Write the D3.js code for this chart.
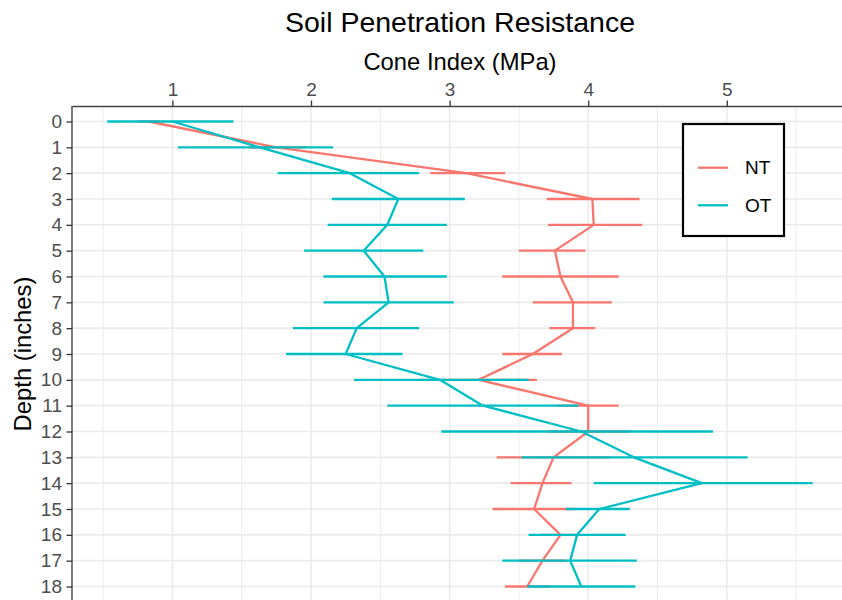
<!DOCTYPE html>
<html>
<head>
<meta charset="utf-8">
<script src="https://cdn.jsdelivr.net/npm/d3@7"></script>
<style>
  body { margin: 0; background: #fff; }
  svg { font-family: "Liberation Sans", Arial, sans-serif; }
  .grid line { stroke: #ebebeb; }
  .axis text { fill: #4d4d4d; font-size: 19px; }
  .axis line { stroke: #333; stroke-width: 1.3px; }
  .axis path { stroke: #444; stroke-width: 1.4px; }
</style>
</head>
<body>
<div id="chart"></div>
<script>
// depth rows (inches)
var depths = [0, 1, 2, 3, 4, 5, 6, 7, 8, 9, 10, 11, 12, 13, 14, 15, 16, 17, 18];

// NT: mean cone index and error bar ends (MPa)
var ntMean = [0.83, 1.75, 3.12, 4.03, 4.04, 3.76, 3.80, 3.89, 3.89, 3.60, 3.21, 4.00, 4.00, 3.75, 3.67, 3.61, 3.80, 3.67, 3.56];
var ntLow  = [0.75, 1.55, 2.86, 3.70, 3.71, 3.50, 3.38, 3.60, 3.72, 3.38, 2.79, 3.78, 3.70, 3.34, 3.44, 3.31, 3.65, 3.50, 3.40];
var ntHigh = [0.91, 1.96, 3.40, 4.37, 4.39, 3.98, 4.22, 4.17, 4.05, 3.81, 3.63, 4.22, 4.30, 4.16, 3.88, 3.91, 3.95, 3.84, 3.72];

// OT
var otMean = [1.00, 1.63, 2.28, 2.63, 2.55, 2.38, 2.53, 2.56, 2.33, 2.25, 2.93, 3.24, 3.95, 4.33, 4.82, 4.08, 3.92, 3.87, 3.95];
var otLow  = [0.53, 1.04, 1.76, 2.15, 2.12, 1.95, 2.09, 2.09, 1.87, 1.82, 2.31, 2.55, 2.94, 3.52, 4.04, 3.84, 3.57, 3.38, 3.56];
var otHigh = [1.44, 2.16, 2.78, 3.11, 2.98, 2.81, 2.98, 3.03, 2.78, 2.66, 3.57, 3.93, 4.90, 5.15, 5.62, 4.30, 4.27, 4.35, 4.34];

var seriesNames = ["NT", "OT"];
var seriesColors = ["#F8766D", "#00BFC4"];

var W = 842, H = 600;
var panel = {left: 72, top: 106, right: 848, bottom: 602};

var svg = d3.select("#chart").append("svg")
    .attr("width", W)
    .attr("height", H);

function rows(mean, low, high) {
  return depths.map(function(d, i) { return {depth: d, mean: mean[i], low: low[i], high: high[i]}; });
}
var series = [
  {name: seriesNames[0], color: seriesColors[0], values: rows(ntMean, ntLow, ntHigh)},
  {name: seriesNames[1], color: seriesColors[1], values: rows(otMean, otLow, otHigh)}
];

// ggplot style 5% expansion
var lo = d3.min(ntLow.concat(otLow)), hi = d3.max(ntHigh.concat(otHigh));
var pad = (hi - lo) * 0.05;
var x = d3.scaleLinear()
    .domain([lo - pad, hi + pad])
    .range([panel.left, panel.right]);

var y = d3.scalePoint()
    .domain(depths)
    .range([panel.top, panel.bottom])
    .padding(0.6);

// grid
var minor = x.ticks(10).filter(function(v) { return v % 1 !== 0; });
var grid = svg.append("g").attr("class", "grid");
grid.selectAll(".minor").data(minor).enter().append("line")
    .attr("x1", function(d) { return x(d); }).attr("x2", function(d) { return x(d); })
    .attr("y1", panel.top).attr("y2", panel.bottom)
    .style("stroke-width", 1);
grid.selectAll(".xmajor").data(x.ticks(5)).enter().append("line")
    .attr("x1", function(d) { return x(d); }).attr("x2", function(d) { return x(d); })
    .attr("y1", panel.top).attr("y2", panel.bottom)
    .style("stroke-width", 1.6);
grid.selectAll(".ymajor").data(depths).enter().append("line")
    .attr("x1", panel.left).attr("x2", panel.right)
    .attr("y1", function(d) { return y(d); }).attr("y2", function(d) { return y(d); })
    .style("stroke-width", 1.6);

// series: line then horizontal error bars
var line = d3.line()
    .x(function(d) { return x(d.mean); })
    .y(function(d) { return y(d.depth); });

series.forEach(function(s) {
  var g = svg.append("g");
  g.append("path")
      .datum(s.values)
      .attr("d", line)
      .attr("fill", "none")
      .attr("stroke", s.color)
      .attr("stroke-width", 2.3)
      .attr("stroke-linejoin", "round");
  g.selectAll(".bar").data(s.values).enter().append("line")
      .attr("x1", function(d) { return x(d.low); })
      .attr("x2", function(d) { return x(d.high); })
      .attr("y1", function(d) { return y(d.depth); })
      .attr("y2", function(d) { return y(d.depth); })
      .attr("stroke", s.color)
      .attr("stroke-width", 2.3);
});

// axes
svg.append("g")
    .attr("class", "axis")
    .attr("transform", "translate(0," + panel.top + ")")
    .call(d3.axisTop(x).ticks(5).tickSizeInner(5.5).tickSizeOuter(0).tickPadding(4.5));

svg.append("g")
    .attr("class", "axis")
    .attr("transform", "translate(" + panel.left + ",0)")
    .call(d3.axisLeft(y).tickSizeInner(5.5).tickSizeOuter(0).tickPadding(4.5))
    .call(function(g) { g.select(".domain").attr("d", "M0," + panel.top + "V" + panel.bottom); });

svg.selectAll(".axis .tick text").attr("font-family", null).attr("font-size", null);

// titles
var cx = (panel.left + panel.right) / 2;
svg.append("text")
    .attr("x", cx).attr("y", 32)
    .attr("text-anchor", "middle")
    .style("font-size", "28.5px")
    .text("Soil Penetration Resistance");

svg.append("text")
    .attr("x", cx).attr("y", 70)
    .attr("text-anchor", "middle")
    .style("font-size", "23.8px")
    .text("Cone Index (MPa)");

svg.append("text")
    .attr("transform", "translate(31," + ((panel.top + panel.bottom) / 2) + ") rotate(-90)")
    .attr("text-anchor", "middle")
    .style("font-size", "23.8px")
    .text("Depth (inches)");

// legend
var legend = svg.append("g").attr("transform", "translate(683,124)");
legend.append("rect")
    .attr("width", 101).attr("height", 112)
    .attr("fill", "#fff")
    .attr("stroke", "#000")
    .attr("stroke-width", 2.2);
var item = legend.selectAll(".item").data(series).enter().append("g")
    .attr("transform", function(d, i) { return "translate(0," + (43.7 + i * 37.6) + ")"; });
item.append("line")
    .attr("x1", 15).attr("x2", 45)
    .attr("stroke", function(d) { return d.color; })
    .attr("stroke-width", 2.3);
item.append("text")
    .attr("x", 62).attr("dy", "0.35em")
    .style("font-size", "19px")
    .text(function(d) { return d.name; });
</script>
</body>
</html>
